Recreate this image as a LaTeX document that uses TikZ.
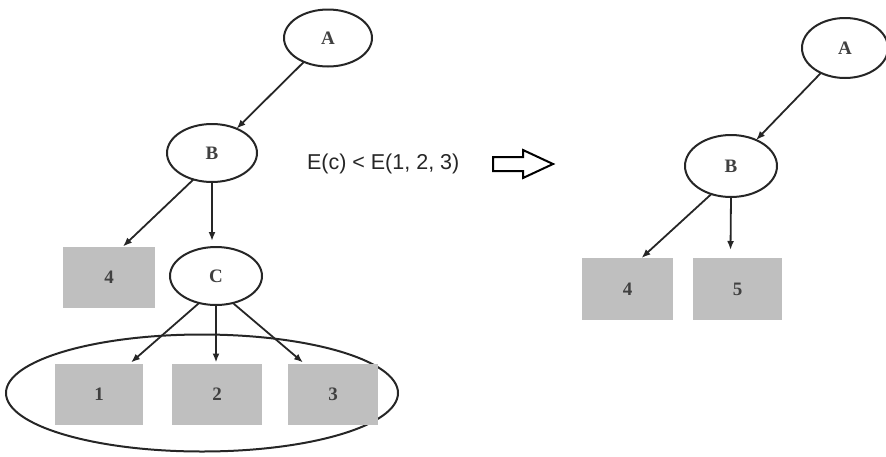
\documentclass[tikz,border=0pt]{standalone}
\usepackage{fontspec}
\setmainfont{Liberation Serif}
\newfontfamily\labelsans{Liberation Sans}
\usetikzlibrary{shapes.geometric,arrows.meta}
\begin{document}
\begin{tikzpicture}[x=1pt,y=-1pt,
  every node/.style={inner sep=0pt, outer sep=0pt},
  oval/.style={draw=black!85, line width=2pt, ellipse, fill=white,
    font=\fontsize{19}{19}\selectfont\bfseries, text=black!75},
  leaf/.style={fill=black!25, draw=none, minimum width=90pt, minimum height=61pt,
    font=\fontsize{19}{19}\selectfont\bfseries, text=black!75},
  arr/.style={draw=black!85, line width=1.8pt, -{Latex[length=9pt,width=7pt]}},
  bigarrow/.style={draw=black, line width=2pt, fill=white}]
\useasboundingbox (0,0) rectangle (886,456);

% ---- tree before pruning ----
\node[draw=black!85, line width=2pt, ellipse, minimum width=392pt, minimum height=117pt]
  (grp) at (202,393) {};
\node[oval, minimum width=88pt, minimum height=57pt] (A1) at (328,38) {A};
\node[oval, minimum width=90pt, minimum height=58pt] (B1) at (212,153) {B};
\node[oval, minimum width=92pt, minimum height=58pt] (C1) at (216,276) {C};
\node[leaf, minimum width=92pt] (L4) at (109,277) {4};
\node[leaf, minimum width=88pt] (L1) at (99,394) {1};
\node[leaf] (L2) at (217,394) {2};
\node[leaf] (L3) at (333,394) {3};

\draw[arr] (A1) -- (B1);
\draw[arr] (B1.235) -- ([xshift=14pt]L4.north);
\draw[arr] (B1.south) -- ([xshift=-4pt,yshift=6pt]C1.north);
\draw[arr] (C1.238) -- ([xshift=-12pt,yshift=1pt]L1.north east);
\draw[arr] (C1.south) -- ([xshift=-1pt,yshift=1pt]L2.north);
\draw[arr] (C1.302) -- ([xshift=15pt,yshift=1pt]L3.north west);

% ---- condition and transition arrow ----
\node[anchor=west, font=\labelsans\fontsize{21.5}{21.5}\selectfont, text=black!85]
  (cond) at (307,164) {E(c) < E(1, 2, 3)};
\draw[bigarrow] (493,157) -- (523,157) -- (523,150) -- (553,164)
  -- (523,178) -- (523,171) -- (493,171) -- cycle;

% ---- tree after pruning ----
\node[oval, minimum width=86pt, minimum height=60pt] (A2) at (845,48) {A};
\node[oval, minimum width=92pt, minimum height=62pt] (B2) at (731,166) {B};
\node[leaf, minimum width=91pt, minimum height=62pt] (R4) at (627.5,289) {4};
\node[leaf, minimum width=89pt, minimum height=62pt] (R5) at (737.5,289) {5};

\draw[arr] (A2) -- (B2);
\draw[arr] (B2.235) -- ([xshift=14pt]R4.north);
\draw[arr] (B2.south) -- ([xshift=-7pt,yshift=8pt]R5.north);
\end{tikzpicture}
\end{document}
